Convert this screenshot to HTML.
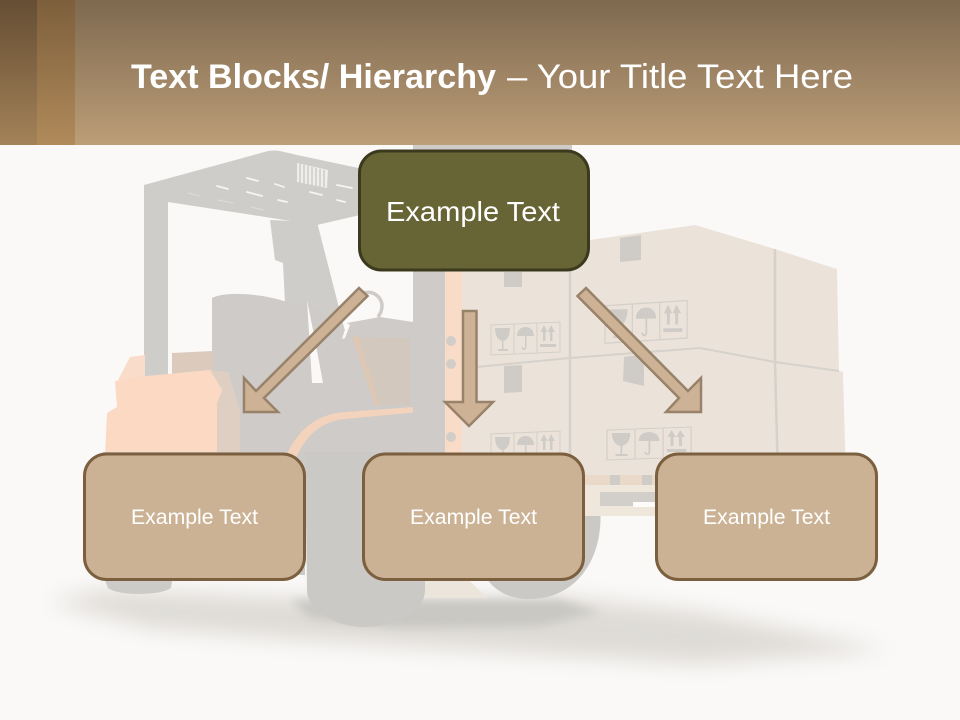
<!DOCTYPE html>
<html lang="en">
<head>
<meta charset="utf-8">
<title>Text Blocks/ Hierarchy</title>
<style>
html,body{margin:0;padding:0;width:960px;height:720px;overflow:hidden;background:#fbf9f8}
svg{display:block}
text{font-family:"Liberation Sans",sans-serif;fill:#fff}
</style>
</head>
<body>
<svg width="960" height="720" viewBox="0 0 960 720" xmlns="http://www.w3.org/2000/svg">
<defs>
<linearGradient id="h" x1="0" y1="0" x2="0" y2="1"><stop offset="0" stop-color="#7e694f"/><stop offset="1" stop-color="#bc9e78"/></linearGradient>
<linearGradient id="h1" x1="0" y1="0" x2="0" y2="1"><stop offset="0" stop-color="#654e33"/><stop offset="1" stop-color="#a38258"/></linearGradient>
<linearGradient id="h2" x1="0" y1="0" x2="0" y2="1"><stop offset="0" stop-color="#7d5f3c"/><stop offset="1" stop-color="#b08a5a"/></linearGradient>
<filter id="b1" x="-20%" y="-100%" width="140%" height="300%"><feGaussianBlur stdDeviation="11"/></filter>
<filter id="b2" x="-20%" y="-100%" width="140%" height="300%"><feGaussianBlur stdDeviation="5"/></filter>
<g id="ic" fill="#cfccc8" stroke="none">
<path d="M0 3L69 0V30L0 33Z" fill="none" stroke="#d3cfc9" stroke-width="1"/>
<path d="M23 2V32M46 1V31" fill="none" stroke="#d3cfc9" stroke-width="1"/>
<path d="M4 6H19C19 14 16 18 12.500 19V27H17V29H7V27H11V19C7 18 4 14 4 6Z"/>
<path d="M26 14C26 8 30 5 34.500 5C39 5 43 8 43 14ZM34 13H35.500V25C35.500 29 30.500 29 30.500 25H32C32 27 34 27 34 25Z"/>
<path d="M52 19V10H49.500L53 3L56.500 10H54.500V19ZM59 19V10H56.800L60 3L64 10H61.500V19ZM49 22H65V25H49Z"/>
</g>
</defs>

<rect width="960" height="720" fill="#fbf9f8"/>

<!-- ground shadows -->
<path d="M48 602L105 590L300 598L560 597L700 612L890 650L700 664L500 652L300 640L150 628Z" fill="#dedbd6" filter="url(#b1)"/>
<path d="M290 600H560L600 612L540 626L400 628L310 618Z" fill="#c9c7c3" filter="url(#b2)"/>

<!-- boxes -->
<path d="M462 271L590 240L695 225L775 249L837 269L839 371L843 372L846 478H462Z" fill="#ebe3da"/>
<rect x="504" y="272" width="18" height="15" fill="#cfccc8"/>
<path d="M620 238L641 235V260L620 262Z" fill="#cfccc8"/>
<path d="M504 366L522 365V392L504 393Z" fill="#cfccc8"/>
<path d="M624 357L644 354L644 386L623 381Z" fill="#cfccc8"/>
<path d="M477 367L570 358L700 348L775 362L839 371" fill="none" stroke="#d6d1ca" stroke-width="2"/>
<path d="M570 270V480M775 249V362L778 480" fill="none" stroke="#d6d1ca" stroke-width="2.500"/>
<use href="#ic" x="491" y="322"/>
<use href="#ic" transform="translate(605 302) scale(1.190 1.250) skewY(-1)"/>
<use href="#ic" x="491" y="431"/>
<use href="#ic" transform="translate(607 427) scale(1.220 1)"/>

<!-- front wheel -->
<path d="M470 505H600C605 560 575 599 530 599C490 599 470 570 470 505Z" fill="#cbc9c6"/>
<path d="M418 592L425 578H467L487 598H418Z" fill="#ece5db"/>

<!-- pallet -->
<rect x="580" y="475" width="80" height="41" fill="#efe6dc"/>
<rect x="584" y="475" width="72" height="10" fill="#e8d9c8"/>
<rect x="610" y="475" width="10" height="10" fill="#cfccc8"/>
<rect x="642" y="475" width="10" height="10" fill="#cfccc8"/>
<rect x="600" y="492" width="56" height="14" fill="#d2cfca"/>
<rect x="633" y="502" width="23" height="5" fill="#fdfcfb"/>

<!-- forklift canopy & post -->
<path d="M144 185L268 151Q273 150 280 151L297 155L415 180V240L360 215L317 225L168 202V377H144Z" fill="#cfcdca"/>
<path d="M270 220L317 222L346 335V405H280V303L285 303L283 263L275 260Z" fill="#cfcdca"/>
<path d="M297 163L328 170L327 188L297 182Z" fill="#f0eeec"/>
<path d="M300 164V183M304 165V184M308 166V185M312 167V186M316 168V186M320 169V187M324 170V187" stroke="#cfcdca" stroke-width="1.600"/>
<g stroke="#f7f5f3" stroke-width="1.700" stroke-linecap="round">
<path d="M247 178L258 181M217 186L228 189M247 192L262 196M275 184L284 187M278 200L287 202M310 192L322 195M337 185L352 188M337 200L345 202"/>
<path d="M188 193L200 196M218 200L233 203M251 207L263 210" stroke="#dcdad7" stroke-width="1.200"/>
</g>

<!-- seat and body -->
<path d="M212 298C225 291 262 293 290 303L310 305L346 330L347 323L380 317L413 322V470H240V410L212 372Z" fill="#cecbc8"/>
<path d="M364 293C374 290 382 298 382 306C382 311 380 314 378 317" fill="none" stroke="#cecbc8" stroke-width="3.500"/>
<path d="M352 337L410 338V405H375Z" fill="#d3c8bd"/>
<path d="M352 337L358 336L380 406H375Z" fill="#ddc7b5"/>

<!-- peach rear body -->
<path d="M118 380L130 357L145 355V380Z" fill="#f9dcc9"/>
<path d="M172 353L212 351V370L172 374Z" fill="#dccabd"/>
<path d="M105 455L107 413L117 407L115 381L147 376L210 370L222 390L217 403V455Z" fill="#fbd9c3"/>
<path d="M210 370L228 372L240 410V458H217V403L222 390Z" fill="#dfcfc3"/>

<!-- lower body -->
<path d="M103 452H305V575H103Z" fill="#cdcbc8"/>
<path d="M103 575H173L171 588C160 596 118 596 108 588Z" fill="#cdcbc8"/>
<path d="M305 452H425V590C425 612 395 627 365 627C335 627 307 610 307 590Z" fill="#cbc9c6"/>
<path d="M285 458C298 428 318 414 345 412L440 405V410L345 419C322 421 305 436 296 458Z" fill="#f3d3bc"/>

<!-- mast -->
<rect x="413" y="145" width="159" height="8" fill="#cecbc8"/>
<rect x="413" y="260" width="33" height="240" fill="#cecbc8"/>
<rect x="445" y="262" width="17" height="218" fill="#f9dcc8"/>
<circle cx="451" cy="341" r="5" fill="#d2cdc8"/>
<circle cx="451" cy="364" r="5" fill="#d2cdc8"/>
<circle cx="451" cy="437" r="5" fill="#d2cdc8"/>

<!-- white slivers -->
<path d="M307 300L312 383H323L316 345Z" fill="#fbf9f8"/>
<path d="M342 339L347 323L350 325L345 338Z" fill="#fbf9f8"/>

<!-- header -->
<rect width="960" height="145" fill="url(#h)"/>
<rect width="37" height="145" fill="url(#h1)"/>
<rect x="37" width="38" height="145" fill="url(#h2)"/>

<text x="131" y="88" font-size="34" font-weight="700" textLength="365" lengthAdjust="spacingAndGlyphs">Text Blocks/ Hierarchy</text>
<text x="507" y="88" font-size="34" textLength="346" lengthAdjust="spacingAndGlyphs">– Your Title Text Here</text>

<!-- arrows -->
<g fill="#cdb295" stroke="#98826a" stroke-width="2.500" stroke-linejoin="miter">
<path d="M359 288L367.500 296L264 398L278 412H244V378L256 391Z"/>
<path d="M463 311H476.500V402H493L469 426L445 402H463Z"/>
<path d="M586 288L577.500 296L679 398L666 412H701V378L688 391Z"/>
</g>

<!-- nodes -->
<rect x="359.500" y="151" width="229" height="119" rx="22" fill="#676536" stroke="#3c3a1e" stroke-width="3"/>
<rect x="84.500" y="454" width="220" height="125.500" rx="22" fill="#cbb295" stroke="#7b5f3f" stroke-width="3"/>
<rect x="363.500" y="454" width="220" height="125.500" rx="22" fill="#cbb295" stroke="#7b5f3f" stroke-width="3"/>
<rect x="656.500" y="454" width="220" height="125.500" rx="22" fill="#cbb295" stroke="#7b5f3f" stroke-width="3"/>

<text x="386" y="221" font-size="28" textLength="174" lengthAdjust="spacingAndGlyphs">Example Text</text>
<text x="131" y="524" font-size="21" textLength="127" lengthAdjust="spacingAndGlyphs">Example Text</text>
<text x="410" y="524" font-size="21" textLength="127" lengthAdjust="spacingAndGlyphs">Example Text</text>
<text x="703" y="524" font-size="21" textLength="127" lengthAdjust="spacingAndGlyphs">Example Text</text>
</svg>
</body>
</html>
